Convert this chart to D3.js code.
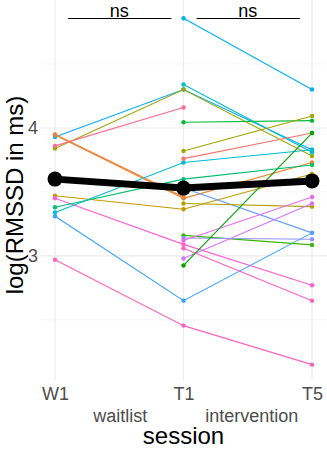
<!DOCTYPE html>
<html>
<head>
<meta charset="utf-8">
<script src="https://cdn.jsdelivr.net/npm/d3@7"></script>
<style>
  html, body { margin: 0; padding: 0; background: #fff; }
  svg { display: block; font-family: "Liberation Sans", Arial, sans-serif; }
</style>
</head>
<body>
<svg id="chart" width="327" height="449"></svg>
<script>
// ---- data ----
const sessions = ["W1", "T1", "T5"];
const yTicks = [3, 4];
const yMinorTicks = [2.5, 3.5, 4.5];
const subjectIds = ["s01","s02","s03","s04","s05","s06","s07","s08","s09","s10","s11","s12",
                    "s13","s14","s15","s16","s17","s18","s19","s20","s21","s22","s23","s24"];
const valuesW1 = [3.93, 3.84, 3.86, 3.945, 3.95, 3.47, 3.45, 3.38, 3.34, 3.31, 2.97,
                  null, null, null, null, null, null, null, null, null, null, null, null, null];
const valuesT1 = [4.30, 4.30, 4.16, 3.45, 3.46, 3.365, 3.09, 3.60, 3.73, 2.65, 2.455,
                  4.857, 4.34, 4.045, 3.82, 3.76, 3.53, 3.41, 3.16, 3.14, 3.12, 3.06, 2.98, 2.925];
const valuesT5 = [3.83, 3.78, null, 3.73, null, 3.64, 2.77, 3.71, 3.83, 3.18, 2.15,
                  4.30, 3.81, 4.057, 4.094, 3.96, 3.18, 3.385, 3.086, 3.13, 3.46, 2.65, 3.41, 3.96];
const subjectColors = ["#00A9FF","#9DA700","#FF6C91","#E88526","#EE8042","#C49A00","#FC61D5",
                       "#00BE70","#00BCD8","#35A2FF","#FF62BC","#00B0F6","#00BFC4","#00BA38",
                       "#A3A500","#F8766D","#619CFF","#B79F00","#39B600","#9590FF","#E76BF3",
                       "#FF61C3","#D575FE","#00A600"];
const meanValues = [3.60, 3.53, 3.586];
const groupLabels = ["waitlist", "intervention"];
const comparisons = [["W1", "T1", "ns"], ["T1", "T5", "ns"]];
const bracketLevel = 4.855;
const yTitle = "log(RMSSD in ms)";
const xTitle = "session";

// ---- build ----
const svg = d3.select("#chart");
const panelTop = 0, panelBottom = 380;
const x = d3.scalePoint().domain(sessions).range([55, 312]);
const y = d3.scaleLinear().domain([2.03, 5]).range([panelBottom, panelTop]);

const cols = [valuesW1, valuesT1, valuesT5];
const subjects = subjectIds.map((id, i) => ({
  id, color: subjectColors[i],
  pts: sessions.map((s, j) => ({ s, v: cols[j][i] })).filter(p => p.v != null)
}));

// grid
const grid = svg.append("g");
grid.selectAll(".ymin").data(yMinorTicks).join("line")
  .attr("x1", 40).attr("x2", 327)
  .attr("y1", d => y(d)).attr("y2", d => y(d))
  .attr("stroke", "#F2F2F2").attr("stroke-width", 0.8);
grid.selectAll(".ymaj").data(yTicks).join("line")
  .attr("x1", 40).attr("x2", 327)
  .attr("y1", d => y(d)).attr("y2", d => y(d))
  .attr("stroke", "#EBEBEB").attr("stroke-width", 1.1);
grid.selectAll(".xmaj").data(sessions).join("line")
  .attr("x1", d => x(d)).attr("x2", d => x(d))
  .attr("y1", panelTop).attr("y2", panelBottom)
  .attr("stroke", "#EBEBEB").attr("stroke-width", 1.1);

// axes (text only, theme_minimal)
const yAxis = svg.append("g").attr("transform", "translate(38,0)")
  .call(d3.axisLeft(y).tickValues(yTicks).tickSize(0).tickPadding(0).tickFormat(d3.format("d")));
yAxis.select(".domain").remove();
yAxis.selectAll("text").attr("font-size", 18).attr("fill", "#4D4D4D")
  .attr("font-family", "Liberation Sans, Arial, sans-serif");

const xAxis = svg.append("g").attr("transform", `translate(0,${panelBottom})`)
  .call(d3.axisBottom(x).tickSize(0).tickPadding(7));
xAxis.select(".domain").remove();
xAxis.selectAll("text").attr("font-size", 18).attr("fill", "#4D4D4D")
  .attr("font-family", "Liberation Sans, Arial, sans-serif");

// subject lines
const line = d3.line().x(d => x(d.s)).y(d => y(d.v));
svg.append("g").selectAll("path").data(subjects).join("path")
  .attr("d", d => line(d.pts)).attr("fill", "none")
  .attr("stroke", d => d.color).attr("stroke-width", 1.1);
svg.append("g").selectAll("g").data(subjects).join("g")
  .selectAll("circle").data(d => d.pts.map(p => ({ ...p, color: d.color }))).join("circle")
  .attr("cx", d => x(d.s)).attr("cy", d => y(d.v)).attr("r", 2.2)
  .attr("fill", d => d.color);

// mean line
const meanPts = sessions.map((s, i) => ({ s, v: meanValues[i] }));
svg.append("path").attr("d", line(meanPts)).attr("fill", "none")
  .attr("stroke", "#000").attr("stroke-width", 7).attr("stroke-linejoin", "round");
svg.append("g").selectAll("circle").data(meanPts).join("circle")
  .attr("cx", d => x(d.s)).attr("cy", d => y(d.v)).attr("r", 7.5).attr("fill", "#000");

// significance brackets
const br = svg.append("g");
comparisons.forEach(([a, b, lab]) => {
  const xa = x(a) + 13, xb = x(b) - 12;
  br.append("line").attr("x1", xa).attr("x2", xb)
    .attr("y1", y(bracketLevel)).attr("y2", y(bracketLevel))
    .attr("stroke", "#000").attr("stroke-width", 1.1);
  br.append("text").attr("x", (x(a) + x(b)) / 2).attr("y", y(bracketLevel) - 1.5)
    .attr("text-anchor", "middle").attr("font-size", 18).attr("fill", "#000").text(lab);
});

// group labels between sessions
svg.append("g").selectAll("text").data(groupLabels).join("text")
  .attr("x", (d, i) => (x(sessions[i]) + x(sessions[i + 1])) / 2 + (i === 0 ? 1 : 4))
  .attr("y", 422).attr("text-anchor", "middle").attr("font-size", 18)
  .attr("fill", "#4D4D4D").text(d => d);

// titles
svg.append("text").attr("x", (x("W1") + x("T5")) / 2).attr("y", 444)
  .attr("text-anchor", "middle").attr("font-size", 24).attr("fill", "#000").text(xTitle);
svg.append("text").attr("transform", `translate(23,${(panelTop + panelBottom) / 2 + 5}) rotate(-90)`)
  .attr("text-anchor", "middle").attr("font-size", 24).attr("fill", "#000").text(yTitle);
</script>
</body>
</html>
